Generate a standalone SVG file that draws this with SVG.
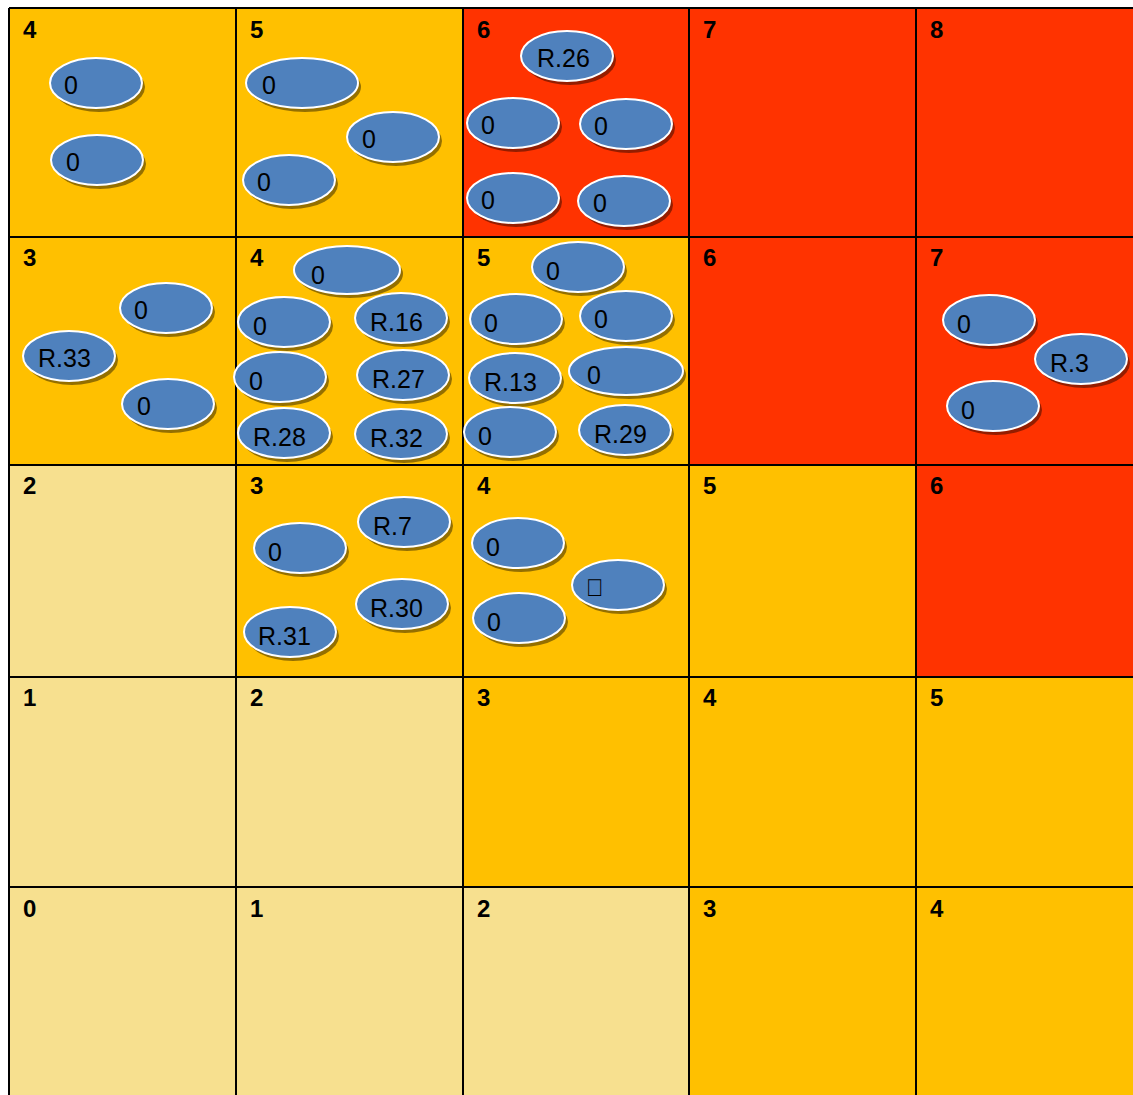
<svg xmlns="http://www.w3.org/2000/svg" width="1133" height="1095" viewBox="0 0 1133 1095">
<defs>
<style>
.o{fill:#FFC000}.r{fill:#FF3300}.l{fill:#F7E08F}
.num{font-family:"Liberation Sans",Arial,sans-serif;font-weight:bold;font-size:24px;fill:#000}
.sh{fill:#000;opacity:0.42}
.el{fill:#4F81BD;stroke:#fff;stroke-width:2}
.t{font-family:"Liberation Sans",Arial,sans-serif;font-size:25px;fill:#000}
.grid{stroke:#000;stroke-width:2;fill:none}
</style>
</defs>
<rect width="1133" height="1095" fill="#fff"/>
<g id="cells">
<rect class="o" x="9" y="8" width="227" height="229"/>
<rect class="o" x="236" y="8" width="227" height="229"/>
<rect class="r" x="463" y="8" width="226" height="229"/>
<rect class="r" x="689" y="8" width="227" height="229"/>
<rect class="r" x="916" y="8" width="217" height="229"/>
<rect class="o" x="9" y="237" width="227" height="228"/>
<rect class="o" x="236" y="237" width="227" height="228"/>
<rect class="o" x="463" y="237" width="226" height="228"/>
<rect class="r" x="689" y="237" width="227" height="228"/>
<rect class="r" x="916" y="237" width="217" height="228"/>
<rect class="l" x="9" y="465" width="227" height="212"/>
<rect class="o" x="236" y="465" width="227" height="212"/>
<rect class="o" x="463" y="465" width="226" height="212"/>
<rect class="o" x="689" y="465" width="227" height="212"/>
<rect class="r" x="916" y="465" width="217" height="212"/>
<rect class="l" x="9" y="677" width="227" height="210"/>
<rect class="l" x="236" y="677" width="227" height="210"/>
<rect class="o" x="463" y="677" width="226" height="210"/>
<rect class="o" x="689" y="677" width="227" height="210"/>
<rect class="o" x="916" y="677" width="217" height="210"/>
<rect class="l" x="9" y="887" width="227" height="208"/>
<rect class="l" x="236" y="887" width="227" height="208"/>
<rect class="l" x="463" y="887" width="226" height="208"/>
<rect class="o" x="689" y="887" width="227" height="208"/>
<rect class="o" x="916" y="887" width="217" height="208"/>
</g>
<g id="grid" class="grid">
<path d="M9 8V1095M236 8V1095M463 8V1095M689 8V1095M916 8V1095M9 8H1133M9 237H1133M9 465H1133M9 677H1133M9 887H1133"/>
</g>
<g id="labels" class="num">
<text x="23" y="38">4</text><text x="250" y="38">5</text><text x="477" y="38">6</text><text x="703" y="38">7</text><text x="930" y="38">8</text>
<text x="23" y="266">3</text><text x="250" y="266">4</text><text x="477" y="266">5</text><text x="703" y="266">6</text><text x="930" y="266">7</text>
<text x="23" y="494">2</text><text x="250" y="494">3</text><text x="477" y="494">4</text><text x="703" y="494">5</text><text x="930" y="494">6</text>
<text x="23" y="706">1</text><text x="250" y="706">2</text><text x="477" y="706">3</text><text x="703" y="706">4</text><text x="930" y="706">5</text>
<text x="23" y="917">0</text><text x="250" y="917">1</text><text x="477" y="917">2</text><text x="703" y="917">3</text><text x="930" y="917">4</text>
</g>
<g id="connectors"></g>
<g id="n1"><ellipse class="sh" cx="99" cy="87" rx="46" ry="25"/><ellipse class="el" cx="96" cy="83" rx="46" ry="25"/><text class="t" x="64" y="94">0</text></g>
<g id="n2"><ellipse class="sh" cx="100" cy="164" rx="46" ry="25"/><ellipse class="el" cx="97" cy="160" rx="46" ry="25"/><text class="t" x="66" y="171">0</text></g>
<g id="n3"><ellipse class="sh" cx="305" cy="87" rx="56" ry="25"/><ellipse class="el" cx="302" cy="83" rx="56" ry="25"/><text class="t" x="262" y="94">0</text></g>
<g id="n4"><ellipse class="sh" cx="396" cy="141" rx="46" ry="25"/><ellipse class="el" cx="393" cy="137" rx="46" ry="25"/><text class="t" x="362" y="148">0</text></g>
<g id="n5"><ellipse class="sh" cx="292" cy="184" rx="46" ry="25"/><ellipse class="el" cx="289" cy="180" rx="46" ry="25"/><text class="t" x="257" y="191">0</text></g>
<g id="n6"><ellipse class="sh" cx="570" cy="60" rx="46" ry="25"/><ellipse class="el" cx="567" cy="56" rx="46" ry="25"/><text class="t" x="537" y="67">R.26</text></g>
<g id="n7"><ellipse class="sh" cx="516" cy="127" rx="46" ry="25"/><ellipse class="el" cx="513" cy="123" rx="46" ry="25"/><text class="t" x="481" y="134">0</text></g>
<g id="n8"><ellipse class="sh" cx="629" cy="128" rx="46" ry="25"/><ellipse class="el" cx="626" cy="124" rx="46" ry="25"/><text class="t" x="594" y="135">0</text></g>
<g id="n9"><ellipse class="sh" cx="516" cy="202" rx="46" ry="25"/><ellipse class="el" cx="513" cy="198" rx="46" ry="25"/><text class="t" x="481" y="209">0</text></g>
<g id="n10"><ellipse class="sh" cx="627" cy="205" rx="46" ry="25"/><ellipse class="el" cx="624" cy="201" rx="46" ry="25"/><text class="t" x="593" y="212">0</text></g>
<g id="n11"><ellipse class="sh" cx="169" cy="312" rx="46" ry="25"/><ellipse class="el" cx="166" cy="308" rx="46" ry="25"/><text class="t" x="134" y="319">0</text></g>
<g id="n12"><ellipse class="sh" cx="72" cy="360" rx="46" ry="25"/><ellipse class="el" cx="69" cy="356" rx="46" ry="25"/><text class="t" x="38" y="367">R.33</text></g>
<g id="n13"><ellipse class="sh" cx="171" cy="408" rx="46" ry="25"/><ellipse class="el" cx="168" cy="404" rx="46" ry="25"/><text class="t" x="137" y="415">0</text></g>
<g id="n14"><ellipse class="sh" cx="350" cy="274" rx="53" ry="24"/><ellipse class="el" cx="347" cy="270" rx="53" ry="24"/><text class="t" x="311" y="284">0</text></g>
<g id="n15"><ellipse class="sh" cx="287" cy="326" rx="46" ry="25"/><ellipse class="el" cx="284" cy="322" rx="46" ry="25"/><text class="t" x="253" y="335">0</text></g>
<g id="n16"><ellipse class="sh" cx="404" cy="322" rx="46" ry="25"/><ellipse class="el" cx="401" cy="318" rx="46" ry="25"/><text class="t" x="370" y="331">R.16</text></g>
<g id="n17"><ellipse class="sh" cx="283" cy="381" rx="46" ry="25"/><ellipse class="el" cx="280" cy="377" rx="46" ry="25"/><text class="t" x="249" y="390">0</text></g>
<g id="n18"><ellipse class="sh" cx="406" cy="379" rx="46" ry="25"/><ellipse class="el" cx="403" cy="375" rx="46" ry="25"/><text class="t" x="372" y="388">R.27</text></g>
<g id="n19"><ellipse class="sh" cx="287" cy="437" rx="46" ry="25"/><ellipse class="el" cx="284" cy="433" rx="46" ry="25"/><text class="t" x="253" y="446">R.28</text></g>
<g id="n20"><ellipse class="sh" cx="404" cy="438" rx="46" ry="25"/><ellipse class="el" cx="401" cy="434" rx="46" ry="25"/><text class="t" x="370" y="447">R.32</text></g>
<g id="n21"><ellipse class="sh" cx="581" cy="271" rx="46" ry="25"/><ellipse class="el" cx="578" cy="267" rx="46" ry="25"/><text class="t" x="546" y="280">0</text></g>
<g id="n22"><ellipse class="sh" cx="519" cy="323" rx="46" ry="25"/><ellipse class="el" cx="516" cy="319" rx="46" ry="25"/><text class="t" x="484" y="332">0</text></g>
<g id="n23"><ellipse class="sh" cx="629" cy="320" rx="46" ry="25"/><ellipse class="el" cx="626" cy="316" rx="46" ry="25"/><text class="t" x="594" y="328">0</text></g>
<g id="n24"><ellipse class="sh" cx="518" cy="382" rx="46" ry="25"/><ellipse class="el" cx="515" cy="378" rx="46" ry="25"/><text class="t" x="484" y="391">R.13</text></g>
<g id="n25"><ellipse class="sh" cx="629" cy="375" rx="57" ry="24"/><ellipse class="el" cx="626" cy="371" rx="57" ry="24"/><text class="t" x="587" y="384">0</text></g>
<g id="n26"><ellipse class="sh" cx="513" cy="436" rx="46" ry="25"/><ellipse class="el" cx="510" cy="432" rx="46" ry="25"/><text class="t" x="478" y="445">0</text></g>
<g id="n27"><ellipse class="sh" cx="628" cy="434" rx="46" ry="25"/><ellipse class="el" cx="625" cy="430" rx="46" ry="25"/><text class="t" x="594" y="443">R.29</text></g>
<g id="n28"><ellipse class="sh" cx="407" cy="526" rx="46" ry="25"/><ellipse class="el" cx="404" cy="522" rx="46" ry="25"/><text class="t" x="373" y="535">R.7</text></g>
<g id="n29"><ellipse class="sh" cx="303" cy="552" rx="46" ry="25"/><ellipse class="el" cx="300" cy="548" rx="46" ry="25"/><text class="t" x="268" y="561">0</text></g>
<g id="n30"><ellipse class="sh" cx="405" cy="608" rx="46" ry="25"/><ellipse class="el" cx="402" cy="604" rx="46" ry="25"/><text class="t" x="370" y="617">R.30</text></g>
<g id="n31"><ellipse class="sh" cx="293" cy="636" rx="46" ry="25"/><ellipse class="el" cx="290" cy="632" rx="46" ry="25"/><text class="t" x="258" y="645">R.31</text></g>
<g id="n32"><ellipse class="sh" cx="521" cy="547" rx="46" ry="25"/><ellipse class="el" cx="518" cy="543" rx="46" ry="25"/><text class="t" x="486" y="556">0</text></g>
<g id="n33"><ellipse class="sh" cx="621" cy="589" rx="46" ry="25"/><ellipse class="el" cx="618" cy="585" rx="46" ry="25"/><text class="t" x="586" y="596" style="font-size:24px">&#xF0FC;</text></g>
<g id="n34"><ellipse class="sh" cx="522" cy="622" rx="46" ry="25"/><ellipse class="el" cx="519" cy="618" rx="46" ry="25"/><text class="t" x="487" y="631">0</text></g>
<g id="n35"><ellipse class="sh" cx="992" cy="324" rx="46" ry="25"/><ellipse class="el" cx="989" cy="320" rx="46" ry="25"/><text class="t" x="957" y="333">0</text></g>
<g id="n36"><ellipse class="sh" cx="1084" cy="363" rx="46" ry="25"/><ellipse class="el" cx="1081" cy="359" rx="46" ry="25"/><text class="t" x="1050" y="372">R.3</text></g>
<g id="n37"><ellipse class="sh" cx="996" cy="410" rx="46" ry="25"/><ellipse class="el" cx="993" cy="406" rx="46" ry="25"/><text class="t" x="961" y="419">0</text></g>
</svg>
